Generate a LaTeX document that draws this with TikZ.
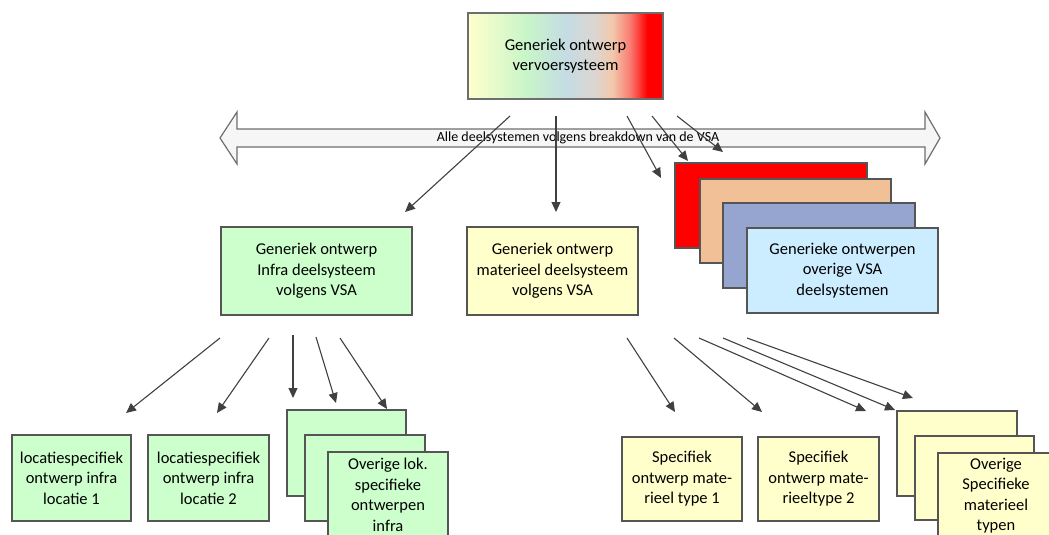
\documentclass[tikz,border=0pt]{standalone}
\usepackage{fontspec}
\setmainfont{Carlito}
\usetikzlibrary{arrows.meta}

\definecolor{boxline}{RGB}{85,85,85}
\definecolor{arrowgray}{RGB}{64,64,64}
\definecolor{infragreen}{RGB}{204,255,204}
\definecolor{matyellow}{RGB}{255,255,204}
\definecolor{stackred}{RGB}{255,0,0}
\definecolor{stackpeach}{RGB}{242,192,150}
\definecolor{stackslate}{RGB}{150,164,208}
\definecolor{stacksky}{RGB}{204,236,255}
\definecolor{bandfill}{RGB}{246,246,246}
\definecolor{bandline}{RGB}{110,110,110}

% horizontal colour run of the top box (path spans 25bp..75bp)
\pgfdeclarehorizontalshading{systemrun}{100bp}{%
  color(0bp)=(rgb,255:red,255;green,255;blue,204);
  color(25bp)=(rgb,255:red,255;green,255;blue,204);
  color(40bp)=(rgb,255:red,200;green,245;blue,200);
  color(50bp)=(rgb,255:red,196;green,220;blue,228);
  color(57.5bp)=(rgb,255:red,220;green,214;blue,208);
  color(62bp)=(rgb,255:red,242;green,200;blue,172);
  color(66.5bp)=(rgb,255:red,250;green,124;blue,114);
  color(71bp)=(rgb,255:red,255;green,0;blue,0);
  color(100bp)=(rgb,255:red,255;green,0;blue,0)}

\newcommand\bxfont{\fontsize{16.5}{20.5}\selectfont}
\newcommand\bandfont{\fontsize{14}{16}\selectfont}

\tikzset{
  box/.style={rectangle, draw=boxline, line width=1.2pt, align=center,
              inner sep=1pt, font=\bxfont},
  conn/.style={draw=arrowgray, line width=1.1pt,
               -{Triangle[length=10pt,width=9pt]}},
  band/.style={draw=bandline, line width=1.2pt, fill=bandfill, line join=miter}
}

\begin{document}
\begin{tikzpicture}[x=1pt,y=-1pt]
\useasboundingbox (0,0) rectangle (1049,535);
\clip (0,0) rectangle (1049,535);

% wide double arrow across all subsystems
\draw[band] (220,138) -- (237,112) -- (237,129) -- (925,129) -- (925,112)
  -- (940,138) -- (925,164) -- (925,147) -- (237,147) -- (237,164) -- cycle;
\node[font=\bandfont, inner sep=0pt] (vsa) at (578,138)
  {Alle deelsystemen volgens breakdown van de VSA};

% top level
\node[box, draw=bandline, shading=systemrun, minimum width=195pt, minimum height=86pt]
  (top) at (565.5,56) {Generiek ontwerp\\vervoersysteem};

% generic subsystem designs
\node[box, fill=infragreen, minimum width=191pt, minimum height=88pt]
  (infra) at (316.5,271) {Generiek ontwerp\\Infra deelsysteem\\volgens VSA};
\node[box, fill=matyellow, minimum width=171pt, minimum height=88pt]
  (mat) at (552.5,271) {Generiek ontwerp\\materieel deelsysteem\\volgens VSA};

\node[box, fill=stackred, minimum width=192pt, minimum height=85pt]
  (gs1) at (771,205.5) {};
\node[box, fill=stackpeach, minimum width=191pt, minimum height=84pt]
  (gs2) at (795.5,221) {};
\node[box, fill=stackslate, minimum width=192pt, minimum height=85pt]
  (gs3) at (819,245.5) {};
\node[box, fill=stacksky, minimum width=191pt, minimum height=85pt]
  (gs4) at (842.5,270.5) {Generieke ontwerpen\\overige VSA\\deelsystemen};

% location specific infra designs
\node[box, fill=infragreen, minimum width=119pt, minimum height=86pt]
  (loc1) at (71.5,478) {locatiespecifiek\\ontwerp infra\\locatie 1};
\node[box, fill=infragreen, minimum width=121pt, minimum height=86pt]
  (loc2) at (208.5,478) {locatiespecifiek\\ontwerp infra\\locatie 2};
\node[box, fill=infragreen, minimum width=119pt, minimum height=86pt]
  (locA) at (346.5,453) {};
\node[box, fill=infragreen, minimum width=120pt, minimum height=86pt]
  (locB) at (365,478) {};
\node[box, fill=infragreen, minimum width=120pt, minimum height=86pt]
  (locC) at (388,495) {Overige lok.\\specifieke\\ontwerpen\\infra};

% rolling stock type designs
\node[box, fill=matyellow, minimum width=120pt, minimum height=84pt]
  (typ1) at (682,479) {Specifiek\\ontwerp mate-\\rieel type 1};
\node[box, fill=matyellow, minimum width=121pt, minimum height=84pt]
  (typ2) at (818.5,479) {Specifiek\\ontwerp mate-\\rieeltype 2};
\node[box, fill=matyellow, minimum width=120pt, minimum height=85pt]
  (typA) at (957,453.5) {};
\node[box, fill=matyellow, minimum width=119pt, minimum height=84pt]
  (typB) at (974.5,478) {};
\node[box, fill=matyellow, minimum width=116pt, minimum height=85pt]
  (typC) at (996,495.5) {Overige\\Specifieke\\materieel\\typen};

% free ends of the connectors
\coordinate (t1s) at (510,116);  \coordinate (t1e) at (405,212);
\coordinate (t2s) at (556,116);  \coordinate (t2e) at (556,212);
\coordinate (t3s) at (627,116);  \coordinate (t3e) at (661,178);
\coordinate (t4s) at (652,116);  \coordinate (t4e) at (688,161);
\coordinate (t5s) at (677,116);  \coordinate (t5e) at (723,152);

\coordinate (b1s) at (220,338);  \coordinate (b1e) at (126,413);
\coordinate (b2s) at (269,338);  \coordinate (b2e) at (217,413);
\coordinate (b3s) at (293,335);  \coordinate (b3e) at (293,398);
\coordinate (b4s) at (316,337);  \coordinate (b4e) at (336,403);
\coordinate (b5s) at (340,338);  \coordinate (b5e) at (387,409);

\coordinate (c1s) at (627,338);  \coordinate (c1e) at (675,412);
\coordinate (c2s) at (674,338);  \coordinate (c2e) at (762,412);
\coordinate (c3s) at (699,338);  \coordinate (c3e) at (866,411);
\coordinate (c4s) at (723,338);  \coordinate (c4e) at (895,410);
\coordinate (c5s) at (747,338);  \coordinate (c5e) at (913,398);

\foreach \k in {t1,t2,t3,t4,t5,b1,b2,b3,b4,b5,c1,c2,c3,c4,c5}
  \draw[conn] (\k s) -- (\k e);

\end{tikzpicture}
\end{document}
